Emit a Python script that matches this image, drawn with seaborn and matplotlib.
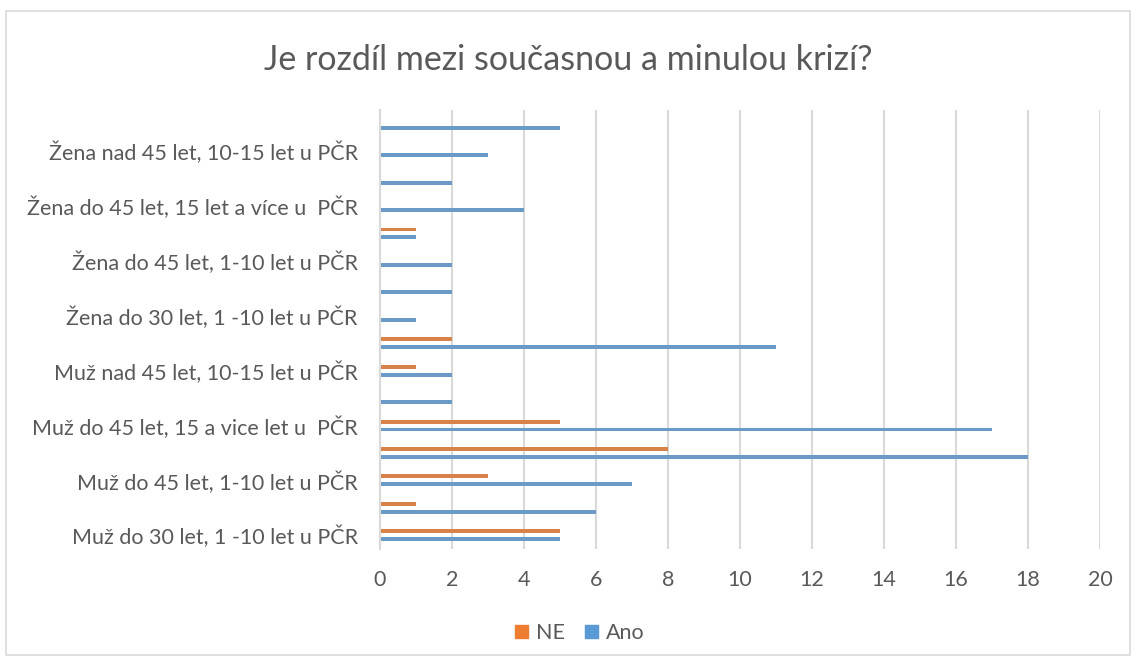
import pandas as pd
import matplotlib.pyplot as plt
import seaborn as sns
from matplotlib.patches import Rectangle, Patch

# categories from bottom to top (as in the Excel chart); only every other label is shown
categories = [
    "Muž do 30 let, 1 -10 let u PČR",
    "Muž do 30 let, 10-15 let u PČR",
    "Muž do 45 let, 1-10 let u PČR",
    "Muž do 45 let, 10-15 let u PČR",
    "Muž do 45 let, 15 a vice let u  PČR",
    "Muž nad 45 let, 1-10 let u PČR",
    "Muž nad 45 let, 10-15 let u PČR",
    "Muž nad 45 let, 15 a více let u PČR",
    "Žena do 30 let, 1 -10 let u PČR",
    "Žena do 30 let, 10-15 let u PČR",
    "Žena do 45 let, 1-10 let u PČR",
    "Žena do 45 let, 10-15 let u PČR",
    "Žena do 45 let, 15 let a více u  PČR",
    "Žena nad 45 let, 1-10 let u PČR",
    "Žena nad 45 let, 10-15 let u PČR",
    "Žena nad 45 let, 15 let a více u PČR",
]
ne_values = [5, 1, 3, 8, 5, 0, 1, 2, 0, 0, 0, 1, 0, 0, 0, 0]
ano_values = [5, 6, 7, 18, 17, 2, 2, 11, 1, 2, 2, 1, 4, 2, 3, 5]
x_ticks = [0, 2, 4, 6, 8, 10, 12, 14, 16, 18, 20]

title = "Je rozdíl mezi současnou a minulou krizí?"
colors = {"NE": "#ED7D31", "Ano": "#5B9BD5"}
text_col = "#595959"
grid_col = "#D9D9D9"
fs = 15.5

df = pd.DataFrame({
    "kategorie": categories * 2,
    "odpoved": ["NE"] * len(categories) + ["Ano"] * len(categories),
    "pocet": ne_values + ano_values,
})

sns.set_style("white")
plt.rcParams["font.family"] = ["Lato", "DejaVu Sans"]

fig = plt.figure(figsize=(11.37, 6.64), dpi=100)
ax = fig.add_axes([380 / 1137, 1 - 549 / 664, 720 / 1137, 439 / 664])

order = categories[::-1]  # seaborn puts first category on top
sns.barplot(data=df, y="kategorie", x="pocet", hue="odpoved", order=order,
            hue_order=["NE", "Ano"], palette=colors, orient="h",
            width=0.58, gap=0.5, linewidth=0, legend=False, ax=ax)

n = len(categories)
ax.set_ylim(n - 0.5, -0.5)
ax.set_xlim(0, 20)
ax.set_xticks(x_ticks)
ax.set_xticklabels([str(t) for t in x_ticks], fontsize=fs, color=text_col)
ax.tick_params(axis="x", length=0, pad=15)

# tick marks at category boundaries, labels for every other category
ax.set_yticks([i - 0.5 for i in range(n + 1)])
ax.set_yticklabels([])
ax.tick_params(axis="y", which="major", length=7, color=grid_col, width=1.5)
label_pos = [n - 1 - i for i in range(0, n, 2)]
ax.set_yticks(label_pos, minor=True)
ax.set_yticklabels([categories[i] for i in range(0, n, 2)], minor=True,
                   fontsize=fs, color=text_col)
ax.tick_params(axis="y", which="minor", length=0, pad=16)

ax.set_xlabel("")
ax.set_ylabel("")
ax.grid(axis="x", color=grid_col, linewidth=1.5)
ax.set_axisbelow(True)
for s in ["top", "right", "bottom"]:
    ax.spines[s].set_visible(False)
ax.spines["left"].set_color(grid_col)
ax.spines["left"].set_linewidth(1.5)

fig.text(0.5, 1 - 60 / 664, title, ha="center", va="center",
         fontsize=24.5, color=text_col)

handles = [Patch(color=colors[k], label=k) for k in ["NE", "Ano"]]
fig.legend(handles=handles, loc="center", bbox_to_anchor=(0.51, 1 - 633 / 664),
           ncol=2, frameon=False, fontsize=fs, labelcolor=text_col,
           handlelength=0.6, handleheight=0.6, handletextpad=0.4, columnspacing=0.9)

fig.patches.append(Rectangle((6 / 1137, 1 - 655 / 664), 1124 / 1137, 644 / 664,
                             transform=fig.transFigure, fill=False,
                             edgecolor=grid_col, linewidth=1.2))

fig.savefig("out.png", dpi=100)
